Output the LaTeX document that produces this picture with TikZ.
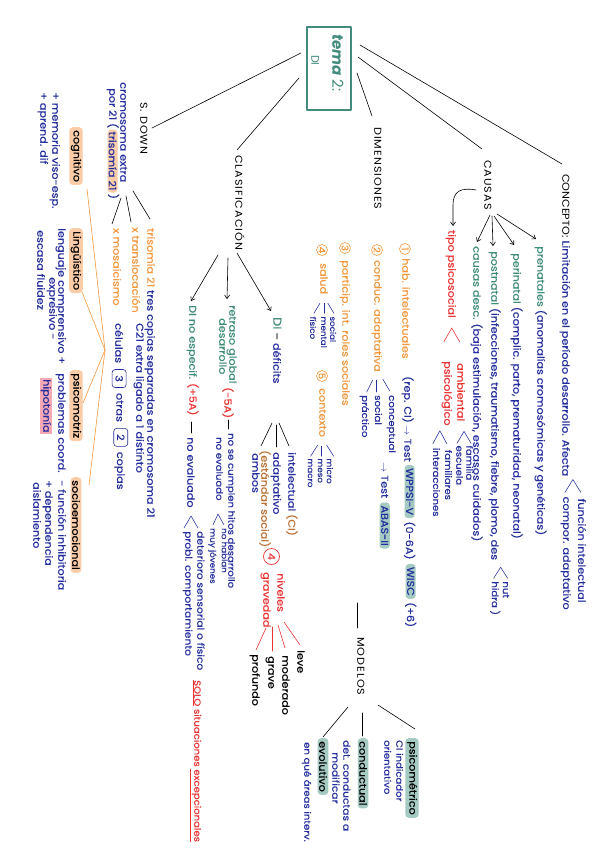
\documentclass[tikz,border=0pt]{standalone}
\usepackage{fontspec}
\setmainfont[FakeStretch=1.12,FakeBold=0.25]{Poppins}
\newfontfamily\hfam[FakeStretch=1.12,LetterSpace=10]{Poppins}
\newfontfamily\tfam{Poppins}
\usetikzlibrary{arrows.meta}
\definecolor{blueT}{RGB}{36,46,158}
\definecolor{tealT}{RGB}{62,140,122}
\definecolor{orT}{RGB}{244,152,62}
\definecolor{redT}{RGB}{234,52,52}
\definecolor{brT}{RGB}{188,112,52}
\definecolor{peach}{RGB}{250,204,168}
\definecolor{tgray}{RGB}{164,202,194}
\definecolor{pinkH}{RGB}{244,168,182}
\definecolor{titleC}{RGB}{66,140,126}
\newcommand\fN{\normalfont\fontsize{10}{11}\selectfont}
\newcommand\fM{\normalfont\fontsize{9.5}{10.5}\selectfont}
\newcommand\fS{\normalfont\fontsize{9}{10}\selectfont}
\newcommand\fT{\normalfont\fontsize{7.8}{8.5}\selectfont}
\newcommand\fH{\hfam\fontsize{10}{11}\selectfont}
\begin{document}
\begin{tikzpicture}[x=1pt,y=-1pt,line cap=round,line join=round,
  vt/.style={rotate=-90,anchor=mid west,inner sep=0pt,font=\fN,text=blueT},
  hd/.style={rotate=-90,anchor=mid west,inner sep=0pt,font=\fH,text=black},
  pbox/.style={rotate=-90,anchor=west,fill=peach,rounded corners=3.5pt,inner xsep=3pt,inner ysep=1.5pt,font=\fN,text=black},
  gbox/.style={pbox,fill=tgray},
  nbox/.style={rotate=-90,anchor=west,draw=blueT,rounded corners=3pt,text=blueT,inner sep=1pt,font=\fN,minimum width=18pt,minimum height=14pt,line width=0.6pt},
  cnum/.style={circle,draw=orT,text=orT,rotate=-90,inner sep=0pt,minimum size=11pt,font=\fS,line width=0.6pt},
  conn/.style={draw=black,line width=0.6pt},
  arr/.style={conn,-{Straight Barb[length=3.5pt,width=5pt]}},
  rl/.style={draw=redT,line width=0.6pt},
  ol/.style={draw=orT,line width=0.6pt},
  brk/.style={draw=blueT,line width=0.55pt},
  rbrk/.style={draw=redT,line width=0.55pt},
]
\fill[white] (0,0) rectangle (600,848);
\useasboundingbox (0,0) rectangle (600,848);

% ---------- title ----------
\node[draw=titleC,line width=1.1pt,minimum width=44pt,minimum height=83pt,inner sep=0pt] (title) at (329,68.5) {};
\node[rotate=-90,anchor=mid west,inner sep=0pt,text=titleC,font=\tfam\fontsize{15}{17}\selectfont] (tema) at (335,34) {\textbf{\textit{tema}} 2:};
\node[rotate=-90,anchor=mid west,inner sep=0pt,text=titleC,font=\tfam\fontsize{11}{12}\selectfont] (di) at (314,55) {DI};

% ---------- headings ----------
\node[hd] (sd) at (143,102) {S. DOWN};
\node[hd] (clas) at (238,155) {CLASIFICACIÓN};
\node[hd] (dim) at (377,127) {DIMENSIONES};
\node[hd] (caus) at (487,160) {CAUSAS};
\node[vt,text=black] (con) at (565,174) {{\hfam\addfontfeatures{LetterSpace=0}CONCEPTO:} {\color{blueT}Limitación en el período desarrollo. Afecta}};

\coordinate (t1) at (301,53);
\coordinate (t2) at (299,78);
\coordinate (t3) at (357,73);
\coordinate (t4) at (358,57);
\coordinate (t5) at (360,45);
\draw[conn] (t1) -- (152,128);
\draw[conn] (t2) -- (237,150);
\draw[conn] (t3) -- (372,116);
\draw[conn] (t4) -- (482,149);
\draw[conn] (t5) -- (562,164);

% ---------- CONCEPTO ----------
\coordinate (b1) at ([shift={(8,3)}]con.east);
\draw[brk] ([shift={(-8,13)}]b1) -- (b1) -- ([shift={(8,13)}]b1);
\node[vt] (fi) at ([shift={(8,19)}]b1) {función intelectual};
\node[vt] (ca) at ([shift={(-7,17)}]b1) {compor. adaptativo};

% ---------- CAUSAS ----------
\draw[arr] (497,214) -- (536,239);
\draw[arr] (494,216) -- (514,245);
\draw[arr] (492,216) -- (493,246);
\draw[arr] (490,215) -- (477,242);
\node[vt] (pre) at (540,246) {{\color{tealT}prenatales} (anomalías cromosómicas y genéticas)};
\node[vt] (peri) at (516,253) {{\color{tealT}perinatal} (complic. parto, prematuridad, neonatal)};
\node[vt] (post) at (494,251) {{\color{tealT}postnatal} (infecciones, traumatismo, fiebre, plomo, des};
\coordinate (b2) at ([shift={(6,7)}]post.east);
\draw[brk] ([shift={(-7,11)}]b2) -- (b2) -- ([shift={(7,11)}]b2);
\node[vt,font=\fS] (nut) at ([shift={(5,14)}]b2) {nut};
\node[vt,font=\fS] (hid) at ([shift={(-6,14)}]b2) {hidra )};
\node[vt] (cdesc) at (476,246) {{\color{tealT}causas desc.} (baja estimulación, escasos cuidados)};

\draw[arr] (476,190) .. controls (460,187) and (453,192) .. (453,205) -- (453,226);
\node[vt,text=redT] (tps) at (451,230) {tipo psicosocial};
\coordinate (b3) at ([shift={(1,10)}]tps.east);
\draw[rbrk] ([shift={(-8,14)}]b3) -- (b3) -- ([shift={(8,14)}]b3);
\node[vt,text=redT] (ambi) at (460,363) {ambiental};
\node[vt,text=redT] (psico) at (447,361) {psicológico};
\coordinate (b4) at ([shift={(3,10)}]ambi.east);
\draw[brk] ([shift={(-7,12)}]b4) -- (b4) -- ([shift={(7,12)}]b4);
\node[vt,font=\fS] (fam) at ([shift={(5,14)}]b4) {familia};
\node[vt,font=\fS] (esc) at ([shift={(-5,14)}]b4) {escuela};
\coordinate (b5) at ([shift={(-7,5)}]psico.east);
\draw[brk] ([shift={(-7,13)}]b5) -- (b5) -- ([shift={(7,13)}]b5);
\node[vt,font=\fS] (fams) at ([shift={(8,19)}]b5) {familiares};
\node[vt,font=\fS] (inte) at ([shift={(-4,17)}]b5) {interacciones};

% ---------- DIMENSIONES ----------
\node[cnum] (c1) at (405,249) {1};
\node[vt,text=orT] (hi) at (405,258) {hab. intelectuales};
\node[vt] (rep) at (407,376) {(rep. CI) $\rightarrow$ Test};
\node[gbox,text=blueT] (wp) at ([shift={(2,3)}]rep.east) {WPPSI-V};
\node[vt] (a06) at ([shift={(-1,3)}]wp.east) {(0-6A)};
\node[gbox,text=blueT] (wi) at ([shift={(1,4)}]a06.east) {WISC};
\node[vt] (p6) at ([shift={(-1,3)}]wi.east) {(+6)};

\node[cnum] (c2) at (377,250) {2};
\node[vt,text=orT] (cad) at (377,260) {conduc. adaptativa};
\draw[brk] ([shift={(6,7)}]cad.east) -- ([shift={(13,19)}]cad.east);
\draw[brk] ([shift={(0,8)}]cad.east) -- ([shift={(0,20)}]cad.east);
\draw[brk] ([shift={(-4,8)}]cad.east) -- ([shift={(-10,20)}]cad.east);
\node[vt,font=\fS] (cpt) at ([shift={(15,23)}]cad.east) {conceptual};
\node[vt,font=\fS] (soc1) at ([shift={(1,23)}]cad.east) {social};
\node[vt,font=\fS] (pra) at ([shift={(-12,23)}]cad.east) {práctico};
\node[vt] (tst) at (384,462) {$\rightarrow$ Test};
\node[gbox,text=blueT] (abas) at ([shift={(0,4)}]tst.east) {ABAS-II};

\node[cnum] (c3) at (345,248) {3};
\node[vt,text=orT] (pir) at (345,260) {particip. int. roles sociales};

\node[cnum] (c4) at (322,250) {4};
\node[vt,text=orT] (sal) at (323,263) {salud};
\draw[brk] ([shift={(4,9)}]sal.east) -- ([shift={(10,19)}]sal.east);
\draw[brk] ([shift={(0,9)}]sal.east) -- ([shift={(0,19)}]sal.east);
\draw[brk] ([shift={(-4,9)}]sal.east) -- ([shift={(-10,19)}]sal.east);
\node[vt,font=\fT] (s1) at ([shift={(9,22)}]sal.east) {social};
\node[vt,font=\fT] (s2) at ([shift={(0,22)}]sal.east) {mental};
\node[vt,font=\fT] (s3) at ([shift={(-11,22)}]sal.east) {físico};

\node[cnum] (c5) at (322,376) {5};
\node[vt,text=orT] (ctx) at (322,388) {contexto};
\draw[brk] ([shift={(4,8)}]ctx.east) -- ([shift={(11,19)}]ctx.east);
\draw[brk] ([shift={(-1,9)}]ctx.east) -- ([shift={(-1,19)}]ctx.east);
\draw[brk] ([shift={(-5,8)}]ctx.east) -- ([shift={(-12,19)}]ctx.east);
\node[vt,font=\fT] (mi) at ([shift={(7,21)}]ctx.east) {micro};
\node[vt,font=\fT] (me) at ([shift={(-2,21)}]ctx.east) {meso};
\node[vt,font=\fT] (ma) at ([shift={(-12,21)}]ctx.east) {macro};

% ---------- MODELOS ----------
\draw[conn] (357,603) -- (357,628);
\node[hd] (mod) at (360,637) {MODELOS};
\draw[conn] (378,705) -- (415,729);
\draw[conn] (362,713) -- (362,736);
\draw[conn] (348,707) -- (323,737);
\node[gbox] (psi) at (412,738) {psicométrico};
\node[gbox] (cond) at (363,738) {conductual};
\node[gbox] (evo) at (323,738) {evolutivo};
\node[vt,font=\fS] (ci1) at (399,740) {CI indicador};
\node[vt,font=\fS] (ci2) at (387,740) {orientativo};
\node[vt,font=\fM] (dc1) at (346,740) {det. conductas a};
\node[vt,font=\fM] (dc2) at (335,752) {modificar};
\node[vt,font=\fS] (eq) at (307,742) {en qué áreas interv.};

% ---------- CLASIFICACION ----------
\draw[arr] (218,255) -- (191,301);
\draw[arr] (228,258) -- (227,299);
\draw[arr] (237,253) -- (271,311);
\node[vt] (dne) at (192,305) {{\color{tealT}DI no especif.} {\color{redT}(+5A)}};
\draw[conn] (191,422) -- (191,433);
\node[vt] (ne1) at (190,437) {no evaluado};
\draw[brk] (184,528) -- (191,516) -- (198,528);
\node[vt,font=\fM] (det) at (200,531) {deterioro sensorial o físico};
\node[vt,font=\fM] (pbc) at (188,531) {probl. comportamiento};

\node[vt,text=tealT] (rgl) at (232,305) {retraso global};
\node[vt,text=tealT] (rgd) at (222,318) {desarrollo};
\node[vt,text=redT] (m5) at (227,387) {(-5A)};
\draw[conn] (228,420) -- (228,429);
\node[vt,font=\fS] (hit) at (231,433) {no se cumplen hitos desarrollo};
\node[vt,font=\fS] (ne2) at (219,437) {no evaluado};
\draw[brk] (213,525) -- (218,514) -- (224,525);
\node[vt,font=\fT] (nh) at (224.5,528) {no hablan};
\node[vt,font=\fT] (mj) at (213,528) {muy jóvenes};

\node[vt] (dd) at (276,317) {{\color{tealT}\fontsize{11.5}{12}\selectfont DI} {\color{black}–} déficits};
\draw[conn] (279,423) -- (289,446);
\draw[conn] (276,425) -- (276,447);
\draw[conn] (272,423) -- (261,446);
\node[vt] (int) at (291,452) {intelectual {\color{brT}(CI)}};
\node[vt] (ada) at (276,452) {adaptativo};
\node[vt,text=brT] (est) at (264,450) {(estándar social)};
\node[vt] (amb) at (255,453) {ambos};

\node[circle,draw=redT,text=redT,rotate=-90,minimum size=16pt,inner sep=0pt,font=\fN,line width=0.7pt] (c4r) at (271.5,556.5) {4};
\node[vt,text=redT] (niv) at (280,573) {niveles};
\node[vt,text=redT] (gra) at (266,572) {gravedad};
\draw[rl] (284,622) -- (300,645);
\draw[rl] (278,625) -- (285,648);
\draw[rl] (272,627) -- (272,651);
\draw[rl] (266,628) -- (256,650);
\node[vt,text=black] (lev) at (300,650) {leve};
\node[vt,text=black] (modr) at (285,655) {moderado};
\node[vt,text=black] (grv) at (271,656) {grave};
\node[vt,text=black] (prof) at (255,654) {profundo};

\node[vt,text=redT,font=\fS] (solo) at (197,680) {\underline{SOLO} situaciones \underline{excepcionales}};

% ---------- S. DOWN ----------
\node[vt] (ce) at (123,82) {cromosoma extra};
\node[vt] (p21) at (112,88) {por 21 (};
\node[pbox,text=blueT,inner xsep=2pt,inner ysep=1pt] (t21) at ([shift={(0,1)}]p21.east) {trisomía 21};
\node[vt] (p21b) at ([shift={(0,1)}]t21.east) {)};
\draw[conn] (133,191) -- (150,219);
\draw[conn] (126,196) -- (131,222);
\draw[conn] (121,198) -- (112,224);
\node[vt] (tri) at (150,228) {{\color{orT}trisomía 21} tres copias separadas en cromosoma 21};
\node[vt,text=orT] (tra) at (135,227) {x translocación};
\node[vt] (c21) at (139,323) {C21 extra ligado a 1 distinto};
\node[vt,text=orT] (mos) at (116,228) {x mosaicismo};
\node[vt] (cel) at (118,323) {células};
\node[nbox] (n3) at ([shift={(0,6)}]cel.east) {3};
\node[vt] (otr) at ([shift={(0,5)}]n3.east) {otras};
\node[nbox] (n2) at ([shift={(1,6)}]otr.east) {2};
\node[vt] (cop) at ([shift={(-1,5)}]n2.east) {copias};

\node[pbox] (cog) at (76,127) {cognitivo};
\node[pbox] (lin) at (76,228) {Lingüístico};
\node[pbox] (psm) at (76,370) {psicomotriz};
\node[pbox] (soe) at (76,477) {socioemocional};
\coordinate (oc) at (105,350);
\draw[ol] (oc) -- (87,189);
\draw[ol] (oc) -- (82,292);
\draw[ol] (oc) -- (83,403);
\draw[ol] (oc) -- (89,485);

\node[vt] (mv) at (55,92) {+ memoria viso-esp.};
\node[vt] (ad) at (43,92) {+ aprend. dif};
\node[vt] (lc) at (61,228) {lenguaje comprensivo +};
\node[vt] (ex) at (52,277) {expresivo -};
\node[vt] (ef) at (40,230) {escasa fluidez};
\node[vt] (pc) at (61,373) {problemas coord.};
\node[vt,fill=pinkH,inner xsep=1pt,inner ysep=1pt] (hip) at (46,378) {hipotonía};
\node[vt] (fin) at (61,480) {- función inhibitoria};
\node[vt] (dep) at (48,480) {+ dependencia};
\node[vt] (ais) at (36,482) {aislamiento};
\end{tikzpicture}
\end{document}
